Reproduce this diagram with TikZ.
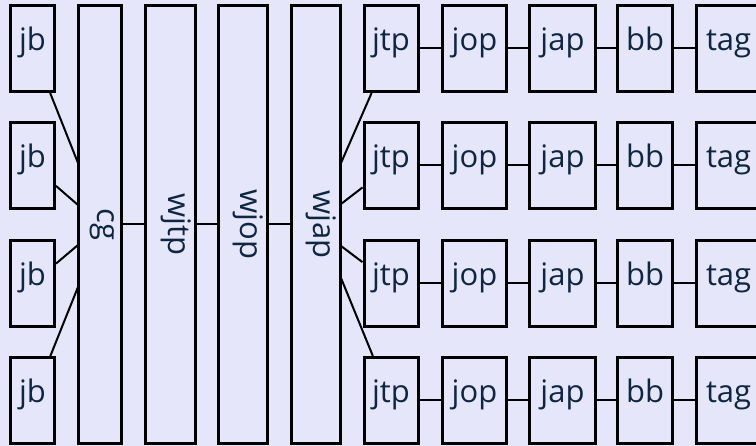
\documentclass[tikz,border=0pt]{standalone}
\usepackage{fontspec}
\setmainfont{Open Sans}
\definecolor{bg}{RGB}{230,230,250}
\definecolor{txt}{RGB}{14,38,66}
\tikzset{
  box/.style={draw=black, line width=3pt, fill=bg, text=txt, inner sep=0pt,
    font=\fontsize{31}{33}\selectfont, text height=0.74em, text depth=0.24em},
  conn/.style={draw=black, line width=2pt},
}
\begin{document}
\begin{tikzpicture}[x=1pt,y=-1pt]
\useasboundingbox (0,0) rectangle (756,446);
\fill[bg] (0,0) rectangle (756,446);
\clip (0,0) rectangle (756,446);
% jb boxes
\foreach \i/\t in {1/5,2/122,3/240,4/357}{
  \node[box, minimum width=44pt, minimum height=86pt] (jb\i) at (32.5,\t+43.5) {jb};
}
% columns
\node[box, rotate=-90, minimum width=438pt, minimum height=43pt] (cg) at (100,224.5) {cg};
\node[box, rotate=-90, minimum width=438pt, minimum height=50pt] (wjtp) at (170.5,224.5) {wjtp};
\node[box, rotate=-90, minimum width=438pt, minimum height=49pt] (wjop) at (243,224.5) {wjop};
\node[box, rotate=-90, minimum width=438pt, minimum height=49pt] (wjap) at (316,224.5) {wjap};
% connection points
\coordinate (c1) at (78,163);
\coordinate (c2) at (78,205);
\coordinate (c3) at (78,245);
\coordinate (c4) at (78,287);
\coordinate (a1) at (341,163);
\coordinate (a2) at (341,204);
\coordinate (a3) at (341,246);
\coordinate (a4) at (341,278);
% rows
\foreach \i/\t in {1/5,2/122,3/240,4/357}{
  \node[box, minimum width=54pt, minimum height=86pt] (jtp\i) at (391,\t+43.5) {jtp};
  \node[box, minimum width=64pt, minimum height=86pt] (jop\i) at (474.5,\t+43.5) {jop};
  \node[box, minimum width=66pt, minimum height=86pt] (jap\i) at (562.5,\t+43.5) {jap};
  \node[box, minimum width=55pt, minimum height=86pt] (bb\i) at (645,\t+43.5) {bb};
  \node[box, minimum width=65pt, minimum height=86pt, text width=46pt, align=left] (tag\i) at (729,\t+43.5) {tag};
  \draw[conn] (jb\i) -- (c\i);
  \draw[conn] (a\i) -- (jtp\i);
  \draw[conn] (jtp\i) -- (jop\i);
  \draw[conn] (jop\i) -- (jap\i);
  \draw[conn] (jap\i) -- (bb\i);
  \draw[conn] (bb\i) -- (tag\i);
}
\draw[conn] (cg) -- (wjtp);
\draw[conn] (wjtp) -- (wjop);
\draw[conn] (wjop) -- (wjap);
\end{tikzpicture}
\end{document}
